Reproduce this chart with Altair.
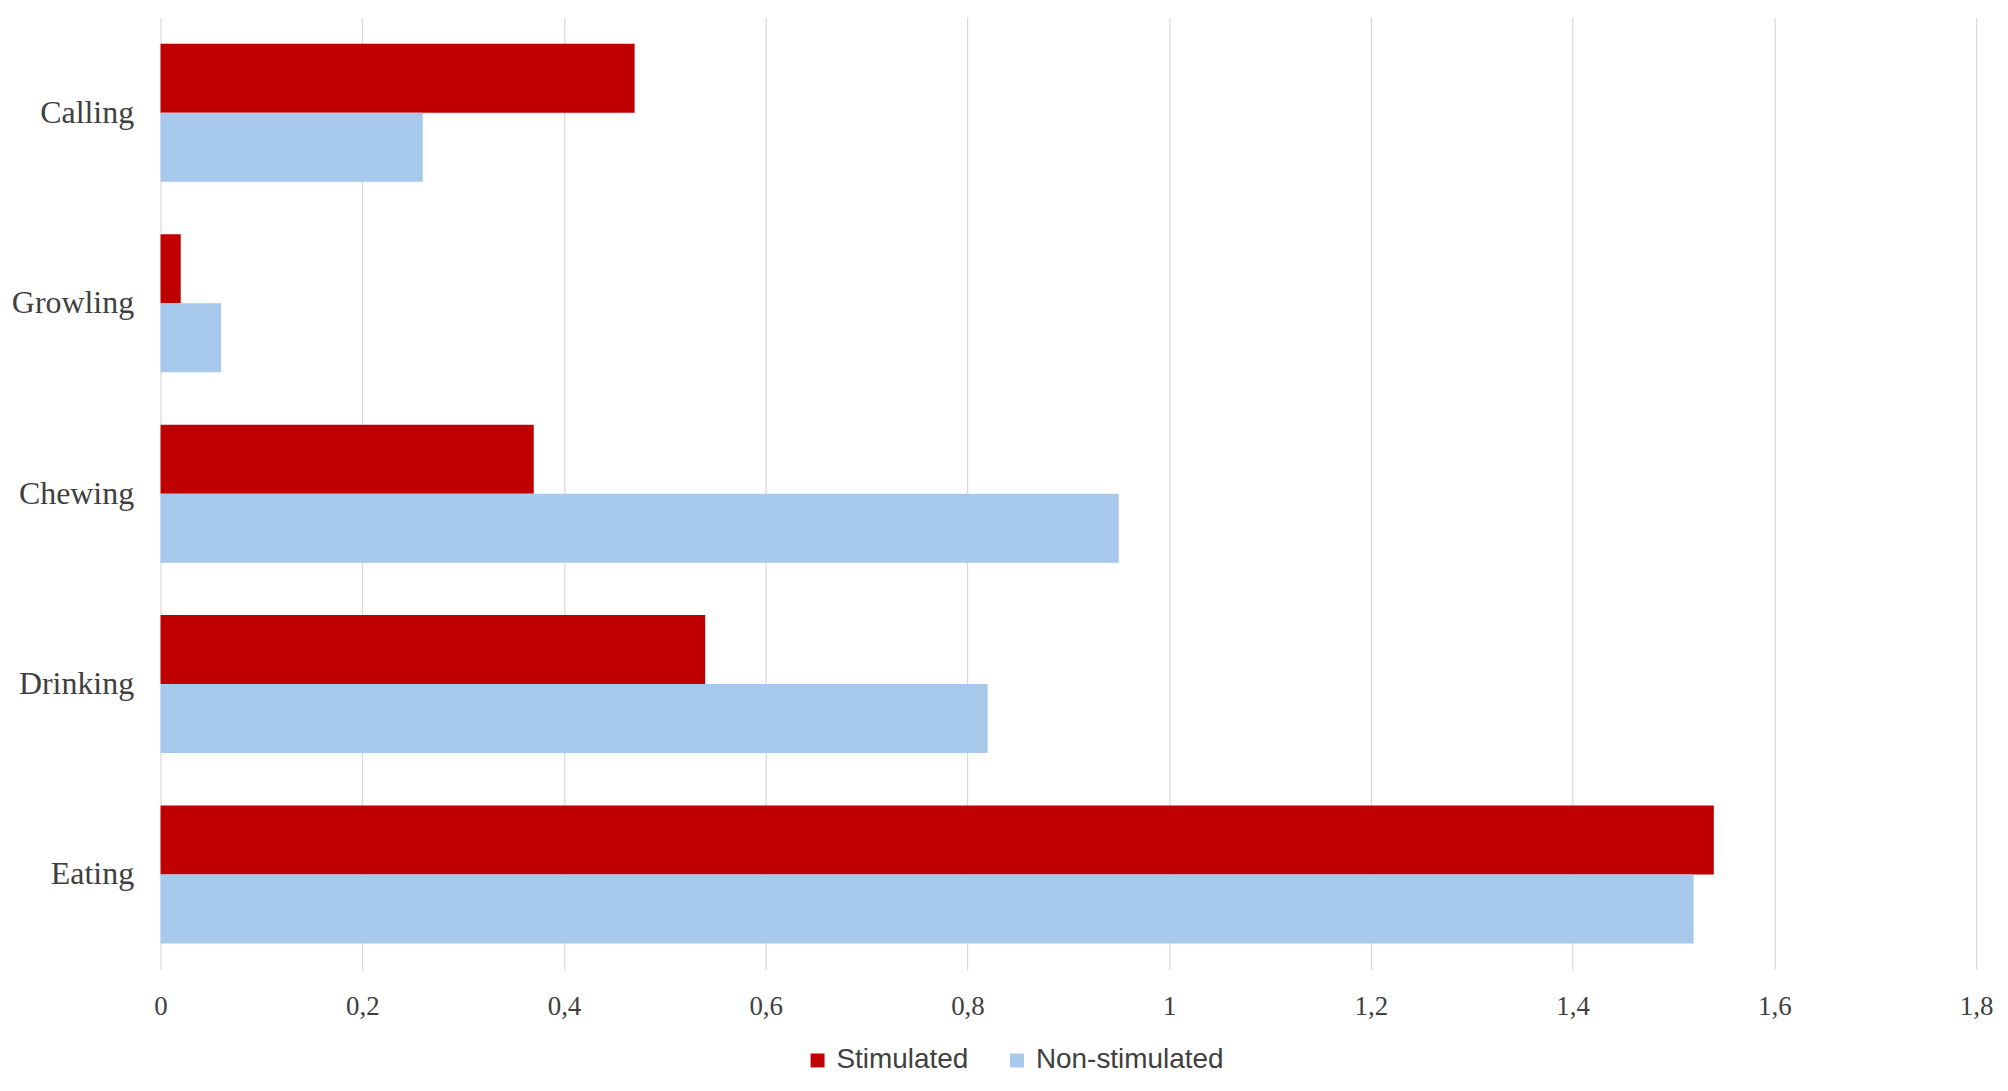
import altair as alt
import pandas as pd

categories = ["Calling", "Growling", "Chewing", "Drinking", "Eating"]
series = ["Stimulated", "Non-stimulated"]
stimulated = [0.47, 0.02, 0.37, 0.54, 1.54]
non_stimulated = [0.26, 0.06, 0.95, 0.82, 1.52]
x_ticks = [0, 0.2, 0.4, 0.6, 0.8, 1.0, 1.2, 1.4, 1.6, 1.8]
colors = ["#C00000", "#A7C9EB"]

rows = []
for c, s, n in zip(categories, stimulated, non_stimulated):
    rows.append({"Behaviour": c, "Group": series[0], "Value": s})
    rows.append({"Behaviour": c, "Group": series[1], "Value": n})
df = pd.DataFrame(rows)

text_color = "#404040"

chart = alt.Chart(df).mark_bar().encode(
    y=alt.Y("Behaviour:N", sort=categories, title=None,
            scale=alt.Scale(paddingInner=0.275, paddingOuter=0.1375),
            axis=alt.Axis(domain=False, ticks=False, labelPadding=27,
                          labelFont="Liberation Serif", labelFontSize=32,
                          labelColor=text_color, grid=False, labelLimit=0)),
    yOffset=alt.YOffset("Group:N", sort=series,
                        scale=alt.Scale(paddingInner=0, paddingOuter=0)),
    x=alt.X("Value:Q", title=None,
            scale=alt.Scale(domain=[0, 1.8], nice=False),
            axis=alt.Axis(values=x_ticks, domain=False, ticks=False,
                          labelExpr="replace(format(datum.value, '~g'), '.', ',')",
                          labelPadding=24, labelFont="Liberation Serif",
                          labelFontSize=27, labelColor=text_color,
                          labelFlush=False,
                          grid=True, gridColor="#D9D9D9", gridWidth=1.2)),
    color=alt.Color("Group:N", sort=series,
                    scale=alt.Scale(domain=series, range=colors),
                    legend=alt.Legend(title=None, orient="none",
                                      legendX=645, legendY=1032,
                                      direction="horizontal", columns=2,
                                      symbolType="square", symbolSize=196,
                                      symbolStrokeWidth=0, labelOffset=5,
                                      columnPadding=34, labelLimit=0,
                                      labelFont="Liberation Sans",
                                      labelFontSize=28, labelColor=text_color)),
).properties(
    width=1821, height=955,
    autosize=alt.AutoSizeParams(type="none"),
    padding={"left": 153, "top": 8, "right": 24, "bottom": 118},
).configure_view(stroke=None)

chart.save("out.html", embed_options={"renderer": "svg", "actions": False})
